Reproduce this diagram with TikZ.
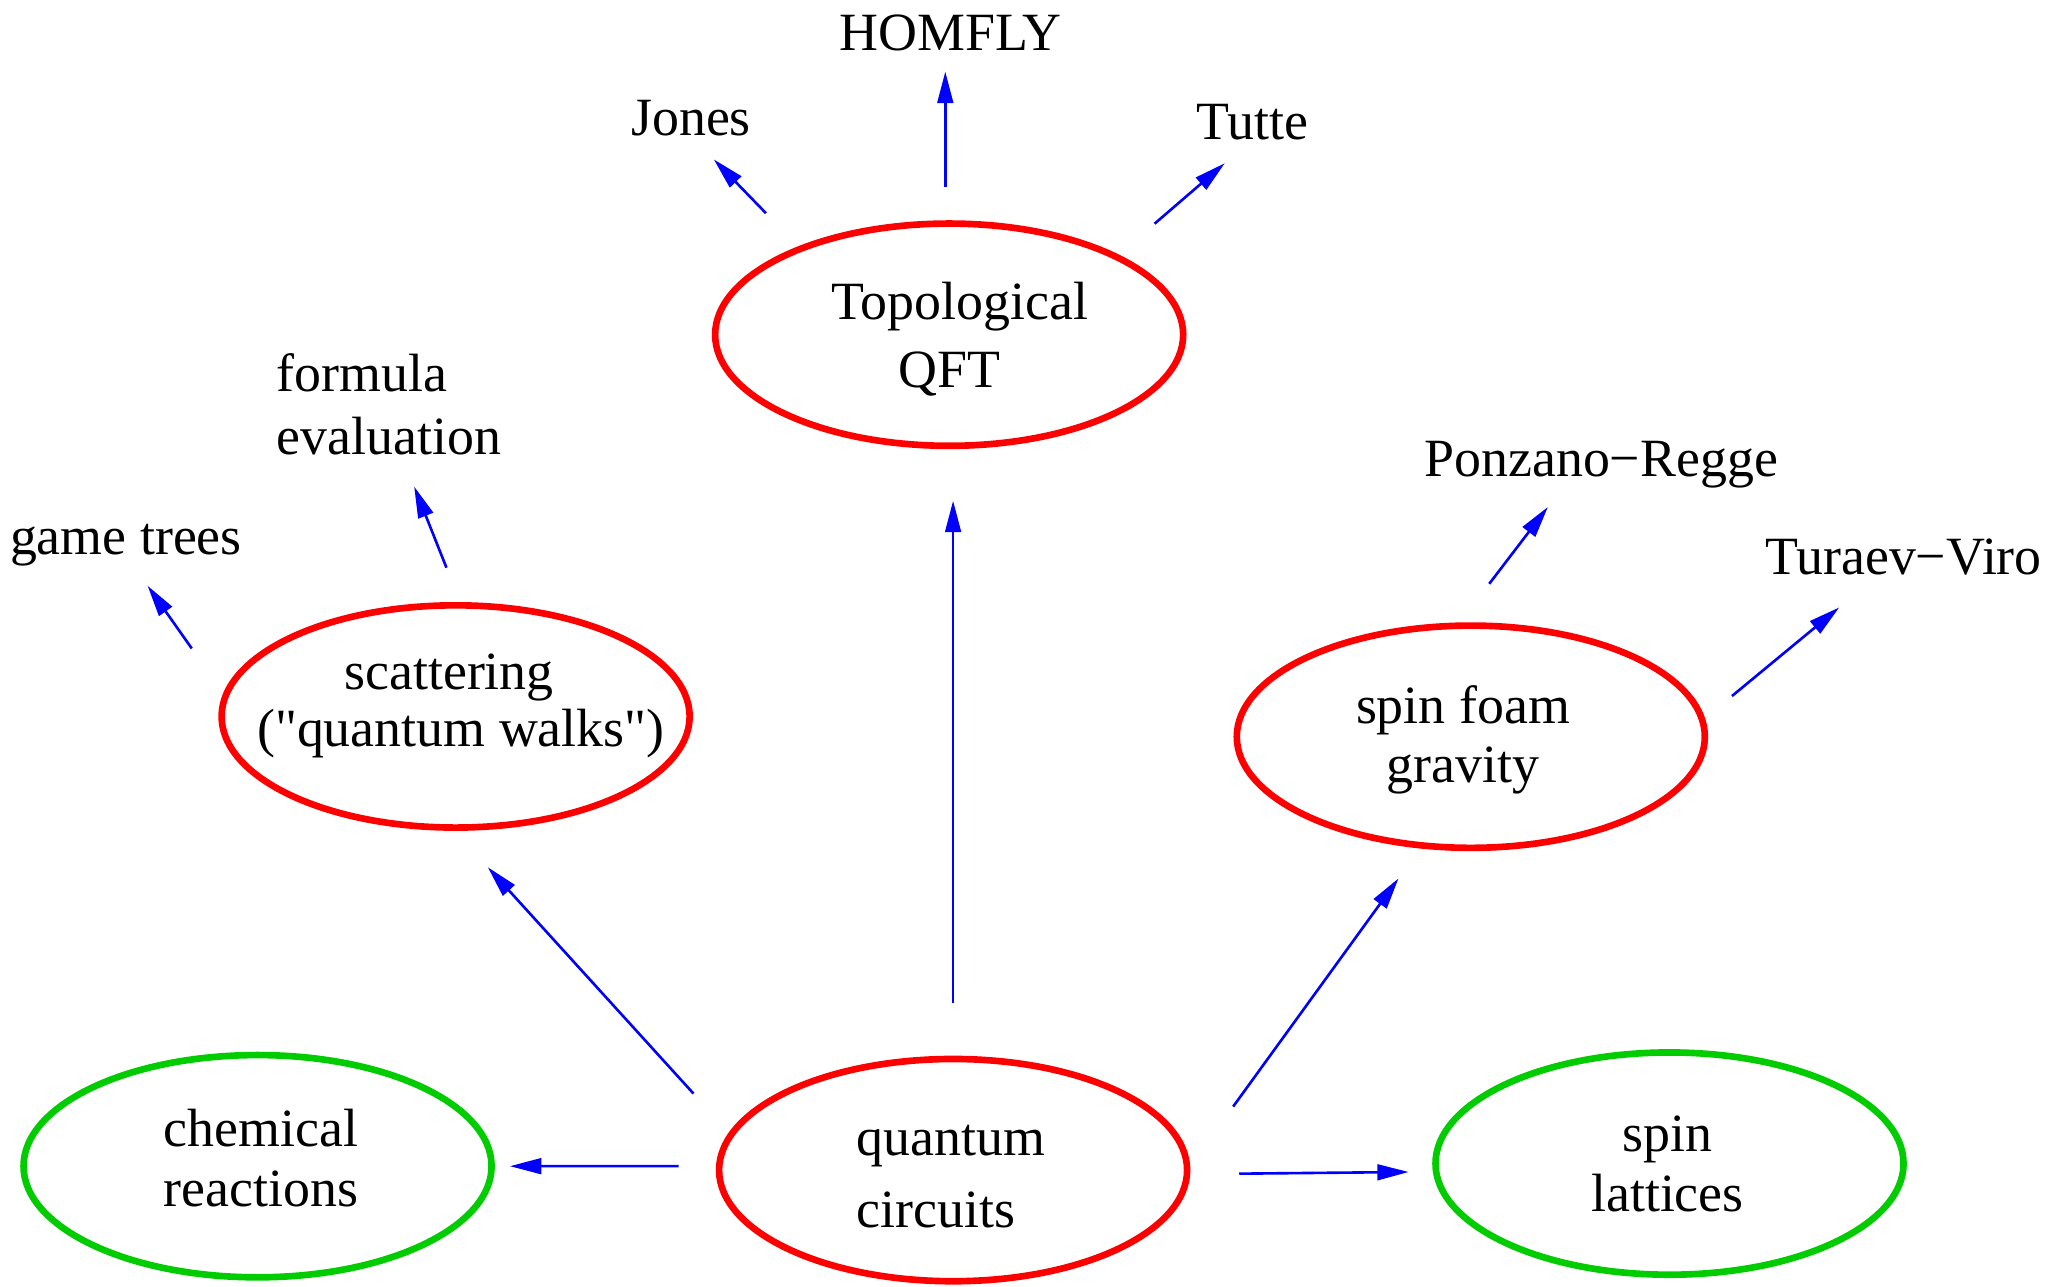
\documentclass[tikz,border=0pt]{standalone}
\usepackage{fontspec}
\setmainfont{Liberation Serif}
\usetikzlibrary{arrows.meta, shapes.geometric}
\definecolor{grn}{RGB}{0,204,0}
\tikzset{
  % an empty oval; its words sit in a node of their own
  oval/.style = {ellipse, line width=1.27pt, inner sep=0pt, outer sep=0pt,
                 minimum width=89.5pt, minimum height=42.5pt},
  % red and green ovals
  rov/.style  = {oval, draw=red},
  gov/.style  = {oval, draw=grn},
  % words inside an oval
  tx/.style   = {inner sep=0pt, outer sep=0pt},
  % a free label, set on its baseline
  lbl/.style  = {inner sep=0pt, outer sep=0pt, anchor=base},
  % an arrow
  ar/.style   = {-{Triangle[length=6pt,width=3pt]}, blue, line width=0.5pt},
}
\begin{document}
\begin{tikzpicture}[x=0.25pt, y=-0.25pt, font=\fontsize{10.3}{10.75}\selectfont]
  \useasboundingbox (0,0) rectangle (1568,984);
  % --- the six ovals ---
  \node[rov] (tqft) at ( 726,  256)   {};
  \node[rov] (scat) at ( 348.5,548)   {};
  \node[rov] (foam) at (1125,  563.5) {};
  \node[gov] (chem) at ( 197,  892)   {};
  \node[rov] (circ) at ( 729,  895)   {};
  \node[gov] (latt) at (1277,  890)   {};
  % --- their words ---
  \node[tx, align=center] (tqft-t) at ( 734,  259.4)
    {Topological\\[2.35pt]QFT\rule{4pt}{0pt}};
  \node[tx, align=center] (scat-t) at ( 352.5,539.7)
    {scattering\rule{4.5pt}{0pt}\\[0.2pt](\textquotedbl quantum walks\textquotedbl)};
  \node[tx, align=center] (foam-t) at (1119,  566)   {spin foam\\[0.4pt]gravity};
  \node[tx, align=center] (chem-t) at ( 199.5,886)   {chemical\\[0.75pt]reactions};
  \node[tx, align=left]   (circ-t) at ( 727.3,900)   {quantum\\[2.95pt]circuits};
  \node[tx, align=center] (latt-t) at (1275.4,890)   {spin\\[0.75pt]lattices};
  % --- free labels ---
  \node[lbl] (homfly) at ( 727,  38.8) {HOMFLY};
  \node[lbl] (jones)  at ( 528.6,104)  {Jones};
  \node[lbl] (tutte)  at ( 958, 106.6) {Tutte};
  \node[tx, align=left, anchor=south west] (formula) at (211.7,348)
    {formula\\[1.35pt]evaluation};
  \node[lbl] (games)  at (  96.3,424.5) {game trees};
  \node[lbl] (ponz)   at (1224.7,364.6) {Ponzano−Regge};
  \node[lbl] (turv)   at (1456,  439.8) {Turaev−Viro};
  % --- out of the quantum circuits ---
  \draw[ar, shorten <=10.75pt, shorten >=10.5pt] (circ.north) -- (circ.north |- tqft.south);
  \draw[ar, shorten <=10.7pt,  shorten >=10.25pt] (circ.171.2) -- (scat.268.7);
  \draw[ar, shorten <=7.75pt,  shorten >=3.5pt]  (circ.179)   -- (chem.east);
  \draw[ar, shorten <=10pt,    shorten >=5.25pt] (circ.-1)    -- (latt.182.8);
  \draw[ar, shorten <=15pt,    shorten >=7.8pt]  (circ.-0.5)  -- (foam.246.2);
  % --- and on to the labels ---
  \draw[ar, shorten <=7.05pt, shorten >=4pt]    (tqft.92)   -- (tqft.92 |- homfly.base);
  \draw[ar, shorten <=9.5pt,  shorten >=6.25pt] (tqft.150)  -- (jones.base);
  \draw[ar, shorten <=9.7pt,  shorten >=7pt]    (tqft.25.6) -- (tutte.base);
  \draw[ar, shorten <=11.2pt, shorten >=7.2pt]  (scat.175.9) -- (games.base);
  \draw[ar, shorten <=7.75pt, shorten >=6.5pt]  (scat.87)   -- (formula.-76);
  \draw[ar, shorten <=10.1pt, shorten >=4.5pt]  (foam.97.7) -- (ponz.211.6);
  \draw[ar, shorten <=7.35pt, shorten >=9.5pt]  (foam.4.1)  -- (turv.215.4);
\end{tikzpicture}
\end{document}
